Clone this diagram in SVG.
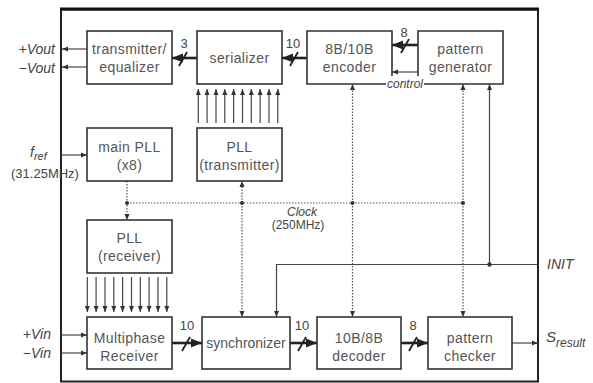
<svg xmlns="http://www.w3.org/2000/svg" width="593" height="383" viewBox="0 0 593 383">
<defs>
<style>
.box{fill:#fff;stroke:#333;stroke-width:1.6}
.t{font-family:"Liberation Sans",Arial,Helvetica,sans-serif;font-size:14px;fill:#555;text-anchor:middle;letter-spacing:0.4px}
.l{font-family:"Liberation Sans",Arial,Helvetica,sans-serif;font-size:14px;fill:#444}
.i{font-style:italic}
.w{fill:none;stroke:#444;stroke-width:1.2}
.bus{fill:none;stroke:#222;stroke-width:2.6}
.dot{fill:none;stroke:#555;stroke-width:1.2;stroke-dasharray:1.5 1.5}
.sl{stroke:#222;stroke-width:1.8}
.n{font-family:"Liberation Sans",Arial,Helvetica,sans-serif;font-size:13px;fill:#444;text-anchor:middle}
</style>
<marker id="a" markerUnits="userSpaceOnUse" markerWidth="6" markerHeight="6" refX="6" refY="3" orient="auto"><path d="M0,0.5 L6,3 L0,5.5 z" fill="#333"/></marker>
<marker id="b" markerUnits="userSpaceOnUse" markerWidth="11" markerHeight="10" refX="11" refY="5" orient="auto"><path d="M0,0.5 L11,5 L0,9.5 z" fill="#222"/></marker>
</defs>
<rect width="593" height="383" fill="#fff"/>
<rect x="61" y="9.5" width="477" height="372" fill="none" stroke="#222" stroke-width="2"/>
<line x1="60" y1="9" x2="539" y2="9" stroke="#111" stroke-width="3"/>

<g id="connectors">
<line class="w" x1="87" y1="49" x2="62" y2="49" marker-end="url(#a)"/>
<line class="w" x1="87" y1="67" x2="62" y2="67" marker-end="url(#a)"/>
<line class="w" x1="61" y1="155" x2="87" y2="155" marker-end="url(#a)"/>
<line class="w" x1="61" y1="335" x2="87" y2="335" marker-end="url(#a)"/>
<line class="w" x1="61" y1="353" x2="87" y2="353" marker-end="url(#a)"/>
<line class="bus" x1="197" y1="58" x2="172" y2="58" marker-end="url(#b)"/>
<line class="sl" x1="179" y1="66" x2="187" y2="52"/>
<text class="n" x="184" y="48">3</text>
<line class="bus" x1="307" y1="58" x2="282" y2="58" marker-end="url(#b)"/>
<line class="sl" x1="290" y1="66" x2="298" y2="52"/>
<text class="n" x="293" y="48">10</text>
<line class="bus" x1="418" y1="45" x2="392" y2="45" marker-end="url(#b)"/>
<line class="sl" x1="401" y1="53" x2="409" y2="39"/>
<text class="n" x="404" y="37">8</text>
<line class="w" x1="418" y1="72" x2="392" y2="72" marker-end="url(#a)"/>
<line class="bus" x1="172" y1="343" x2="202" y2="343" marker-end="url(#b)"/>
<line class="sl" x1="182" y1="351" x2="190" y2="337"/>
<text class="n" x="187" y="330">10</text>
<line class="bus" x1="290" y1="343" x2="317" y2="343" marker-end="url(#b)"/>
<line class="sl" x1="298" y1="351" x2="306" y2="337"/>
<text class="n" x="302" y="330">10</text>
<line class="bus" x1="401" y1="343" x2="428" y2="343" marker-end="url(#b)"/>
<line class="sl" x1="409" y1="351" x2="417" y2="337"/>
<text class="n" x="413" y="330">8</text>
<line class="w" x1="512" y1="343" x2="538" y2="343" marker-end="url(#a)"/>
<g class="w" marker-end="url(#a)">
<line x1="198.3" y1="123" x2="198.3" y2="89"/>
<line x1="207.1" y1="123" x2="207.1" y2="89"/>
<line x1="216.0" y1="123" x2="216.0" y2="89"/>
<line x1="224.8" y1="123" x2="224.8" y2="89"/>
<line x1="233.6" y1="123" x2="233.6" y2="89"/>
<line x1="242.5" y1="123" x2="242.5" y2="89"/>
<line x1="251.3" y1="123" x2="251.3" y2="89"/>
<line x1="260.1" y1="123" x2="260.1" y2="89"/>
<line x1="269.0" y1="123" x2="269.0" y2="89"/>
<line x1="277.8" y1="123" x2="277.8" y2="89"/>
</g>
<g class="w" marker-end="url(#a)">
<line x1="87.3" y1="277" x2="87.3" y2="312"/>
<line x1="96.1" y1="277" x2="96.1" y2="312"/>
<line x1="105.0" y1="277" x2="105.0" y2="312"/>
<line x1="113.8" y1="277" x2="113.8" y2="312"/>
<line x1="122.6" y1="277" x2="122.6" y2="312"/>
<line x1="131.5" y1="277" x2="131.5" y2="312"/>
<line x1="140.3" y1="277" x2="140.3" y2="312"/>
<line x1="149.1" y1="277" x2="149.1" y2="312"/>
<line x1="158.0" y1="277" x2="158.0" y2="312"/>
<line x1="166.8" y1="277" x2="166.8" y2="312"/>
</g>
<line class="dot" x1="127" y1="203" x2="463" y2="203"/>
<line class="dot" x1="127" y1="181" x2="127" y2="220" marker-end="url(#a)"/>
<line class="dot" x1="242" y1="203" x2="242" y2="181" marker-end="url(#a)"/>
<line class="dot" x1="242" y1="203" x2="242" y2="317" marker-end="url(#a)"/>
<line class="dot" x1="352.5" y1="203" x2="352.5" y2="84" marker-end="url(#a)"/>
<line class="dot" x1="352.5" y1="203" x2="352.5" y2="317" marker-end="url(#a)"/>
<line class="dot" x1="463" y1="203" x2="463" y2="84" marker-end="url(#a)"/>
<line class="dot" x1="463" y1="203" x2="463" y2="317" marker-end="url(#a)"/>
<circle cx="127" cy="203" r="2" fill="#333"/>
<circle cx="242" cy="203" r="2" fill="#333"/>
<circle cx="352.5" cy="203" r="2" fill="#333"/>
<circle cx="463" cy="203" r="2" fill="#333"/>
<path class="w" d="M538,264.5 H276.5 V317" marker-end="url(#a)"/>
<line class="w" x1="489.5" y1="264.5" x2="489.5" y2="84" marker-end="url(#a)"/>
<circle cx="489.5" cy="264.5" r="2.2" fill="#333"/>
</g>

<g id="transmitter">
<rect class="box" x="87" y="31" width="85" height="53"/>
<text class="t" x="129.5" y="54">transmitter/</text>
<text class="t" x="129.5" y="72">equalizer</text>
</g>
<g id="serializer">
<rect class="box" x="197" y="31" width="85" height="53"/>
<text class="t" x="239.5" y="63">serializer</text>
</g>
<g id="encoder">
<path class="box" d="M392,76 V31 H307 V84 H386"/>
<text class="t" x="349.5" y="54">8B/10B</text>
<text class="t" x="349.5" y="72">encoder</text>
</g>
<g id="generator">
<path class="box" d="M418,76 V31 H503 V84 H424"/>
<text class="t" x="460.5" y="54">pattern</text>
<text class="t" x="460.5" y="72">generator</text>
</g>
<text class="l i" x="405" y="88" text-anchor="middle" style="font-size:12px">control</text>
<g id="mainpll">
<rect class="box" x="87" y="128" width="85" height="53"/>
<text class="t" x="129.5" y="152">main PLL</text>
<text class="t" x="129.5" y="170">(x8)</text>
</g>
<g id="plltx">
<rect class="box" x="197" y="128" width="85" height="53"/>
<text class="t" x="239.5" y="152">PLL</text>
<text class="t" x="239.5" y="170">(transmitter)</text>
</g>
<g id="pllrx">
<rect class="box" x="87" y="220" width="85" height="53"/>
<text class="t" x="129.5" y="243">PLL</text>
<text class="t" x="129.5" y="261">(receiver)</text>
</g>
<g id="receiver">
<rect class="box" x="87" y="317" width="85" height="52"/>
<text class="t" x="129.5" y="343">Multiphase</text>
<text class="t" x="129.5" y="361">Receiver</text>
</g>
<g id="synchronizer">
<rect class="box" x="202" y="317" width="88" height="52"/>
<text class="t" x="246" y="348" style="letter-spacing:0">synchronizer</text>
</g>
<g id="decoder">
<rect class="box" x="317" y="317" width="84" height="52"/>
<text class="t" x="359" y="343">10B/8B</text>
<text class="t" x="359" y="361">decoder</text>
</g>
<g id="checker">
<rect class="box" x="428" y="317" width="84" height="52"/>
<text class="t" x="470" y="343">pattern</text>
<text class="t" x="470" y="361">checker</text>
</g>

<g id="labels">
<text class="l i" x="55" y="54" text-anchor="end">+Vout</text>
<text class="l i" x="55" y="73" text-anchor="end">−Vout</text>
<text class="l i" x="30" y="157">f<tspan font-size="11" dy="3">ref</tspan></text>
<text class="l" x="45" y="178" text-anchor="middle" style="font-size:13px">(31.25MHz)</text>
<text class="l i" x="51" y="339" text-anchor="end">+Vin</text>
<text class="l i" x="51" y="358" text-anchor="end">−Vin</text>
<text class="l i" x="302" y="216" text-anchor="middle" style="font-size:12px">Clock</text>
<text class="l" x="298" y="229" text-anchor="middle" style="font-size:12px">(250MHz)</text>
<text class="l i" x="547" y="269">INIT</text>
<text class="l i" x="546" y="342" style="font-size:15px">S<tspan font-size="12" dy="5">result</tspan></text>
</g>
</svg>
